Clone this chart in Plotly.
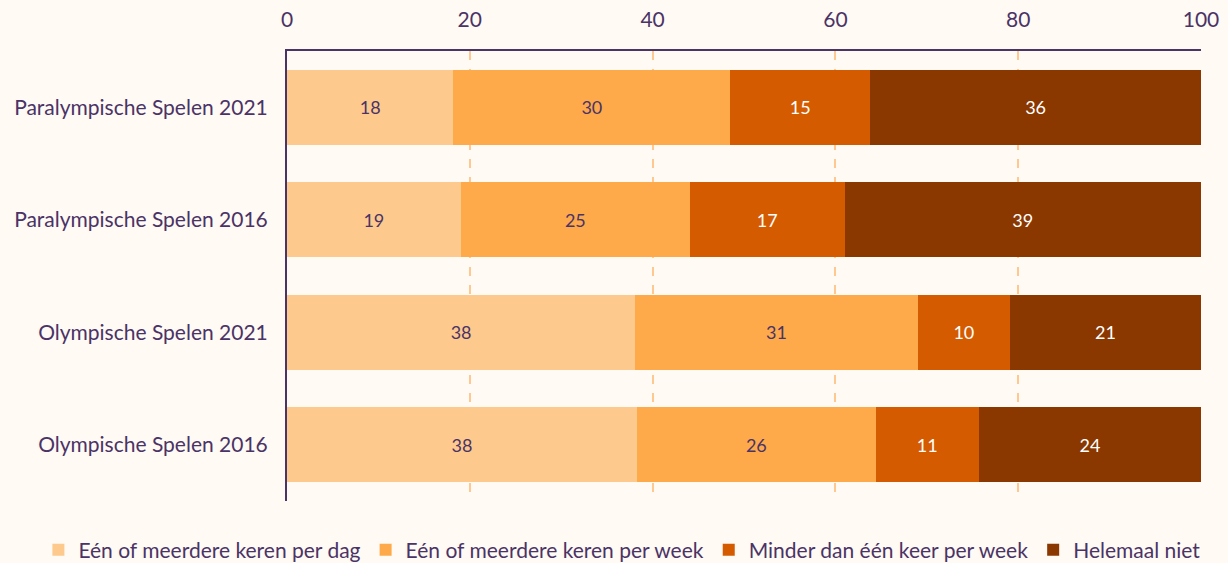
import plotly.graph_objects as go

categories = ["Paralympische Spelen 2021", "Paralympische Spelen 2016",
              "Olympische Spelen 2021", "Olympische Spelen 2016"]
series_names = ["Eén of meerdere keren per dag", "Eén of meerdere keren per week",
                "Minder dan één keer per week", "Helemaal niet"]
per_dag = [18.2, 19.0, 38.1, 38.3]
per_week = [30.3, 25.1, 30.9, 26.1]
minder = [15.3, 16.9, 10.1, 11.3]
helemaal = [36.2, 39.0, 20.9, 24.3]
labels = [[18, 19, 38, 38], [30, 25, 31, 26], [15, 17, 10, 11], [36, 39, 21, 24]]
tick_vals = [0, 20, 40, 60, 80, 100]

colors = ["#fec98d", "#feaa4a", "#d45b00", "#8a3700"]
text_colors = ["#4a3366", "#4a3366", "#ffffff", "#ffffff"]
values = [per_dag, per_week, minder, helemaal]

fig = go.Figure()
for name, vals, lab, c, tc in zip(series_names, values, labels, colors, text_colors):
    fig.add_trace(go.Bar(
        y=categories, x=vals, name=name, orientation="h",
        marker=dict(color=c, line=dict(width=0)),
        text=[str(v) for v in lab], textposition="inside",
        insidetextanchor="middle",
        textfont=dict(color=tc, size=18, family="Lato"),
        hoverinfo="skip",
    ))

fig.update_layout(
    barmode="stack",
    bargap=1/3,
    width=1228, height=563,
    margin=dict(l=287, r=27, t=51, b=62, autoexpand=False),
    paper_bgcolor="#fffaf3",
    plot_bgcolor="#fffaf3",
    font=dict(family="Lato", color="#4a3366", size=21),
    xaxis=dict(side="top", range=[0, 100], tickvals=tick_vals, automargin=False,
               showgrid=True, gridcolor="#ffc891", griddash="dash", gridwidth=1.5,
               showline=True, linecolor="#4a3366", linewidth=2,
               zeroline=False, ticks="", tickfont=dict(size=21),
               ticklabelstandoff=14),
    yaxis=dict(autorange="reversed", showline=True, linecolor="#4a3366", linewidth=2,
               automargin=False,
               showgrid=False, ticks="", tickfont=dict(size=21), ticklabelstandoff=13),
    legend=dict(orientation="h", x=-0.272, xanchor="left", y=-0.109, yanchor="middle",
                font=dict(size=21), traceorder="normal", itemwidth=30),
    showlegend=True,
)

fig.write_html("out.html", config={"displayModeBar": False},
               post_script="document.body.style.margin='0';document.body.style.overflow='hidden';")
